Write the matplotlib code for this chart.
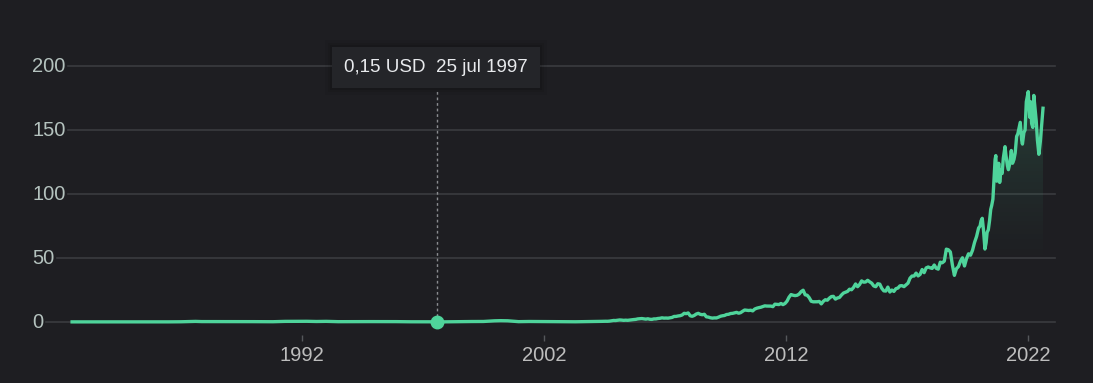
import numpy as np
import matplotlib
matplotlib.use("Agg")
import matplotlib.pyplot as plt
from matplotlib.patches import FancyBboxPatch, Polygon

# Price history (USD, split adjusted)
early_dates = [1982.5, 1983.0, 1983.45, 1984.0, 1984.5, 1985.0, 1985.5, 1986.0, 1986.5,
               1987.0, 1987.6, 1987.85, 1988.5, 1989.0, 1989.7, 1990.0, 1990.8, 1991.3,
               1991.9, 1992.2, 1992.6, 1993.0, 1993.5, 1994.0, 1994.8, 1995.3, 1995.9,
               1996.5, 1997.0, 1997.56, 1997.9, 1998.5, 1999.0, 1999.5, 1999.95, 2000.2,
               2000.5, 2000.95, 2001.4, 2001.9, 2002.3, 2002.8, 2003.3, 2003.8]
early_prices = [0.09, 0.12, 0.17, 0.10, 0.09, 0.10, 0.06, 0.08, 0.11,
                0.18, 0.47, 0.32, 0.33, 0.33, 0.38, 0.28, 0.22, 0.48,
                0.50, 0.55, 0.39, 0.50, 0.25, 0.25, 0.31, 0.34, 0.29,
                0.17, 0.20, 0.15, 0.13, 0.30, 0.37, 0.41, 0.92, 1.05,
                0.95, 0.27, 0.40, 0.35, 0.25, 0.23, 0.18, 0.30]

# monthly closes 2004 - 2019
monthly_start = 2004
monthly_prices = [
    0.40, 0.43, 0.48, 0.46, 0.50, 0.58, 0.58, 0.56, 0.69, 0.93, 1.20, 1.15,
    1.36, 1.60, 1.49, 1.29, 1.42, 1.31, 1.53, 1.67, 1.91, 2.05, 2.42, 2.57,
    2.70, 2.44, 2.24, 2.52, 2.13, 2.04, 2.42, 2.42, 2.75, 2.90, 3.26, 3.03,
    3.10, 3.01, 3.32, 3.57, 4.34, 4.36, 4.71, 4.93, 5.48, 6.78, 6.52, 7.07,
    4.84, 4.46, 5.12, 6.21, 6.77, 5.98, 5.68, 6.04, 4.06, 3.84, 3.31, 3.05,
    3.22, 3.18, 3.75, 4.49, 4.86, 5.09, 5.84, 6.00, 6.62, 6.75, 7.14, 7.53,
    6.86, 7.30, 8.39, 9.37, 9.17, 8.98, 9.19, 8.68, 10.13, 10.77, 11.19, 11.52,
    12.11, 12.61, 12.45, 12.45, 12.42, 12.00, 13.92, 13.74, 13.62, 14.46, 13.59, 14.46,
    16.27, 19.37, 21.43, 20.91, 20.61, 20.86, 21.81, 23.73, 24.83, 21.26, 20.90, 19.01,
    16.23, 15.77, 15.80, 15.81, 16.06, 14.15, 16.16, 17.40, 17.03, 18.65, 19.86, 20.04,
    17.88, 18.78, 19.16, 21.07, 22.61, 23.23, 23.90, 25.62, 25.19, 27.00, 29.73, 27.59,
    29.29, 32.11, 31.11, 31.29, 32.57, 31.36, 30.33, 28.19, 27.57, 29.88, 29.57, 26.31,
    24.34, 24.17, 27.25, 23.43, 24.97, 23.90, 26.05, 26.53, 28.26, 28.39, 27.63, 28.95,
    30.34, 34.25, 35.92, 35.91, 38.19, 36.00, 37.18, 41.00, 38.53, 42.26, 42.96, 42.31,
    41.86, 44.53, 41.94, 41.31, 46.72, 46.28, 47.57, 56.91, 56.44, 54.72, 44.65, 36.44,
    41.61, 43.29, 47.49, 50.17, 43.77, 49.48, 53.26, 52.19, 56.07, 62.19, 66.81, 73.41,
]

# roughly twice a month from 2020 on
late_dates = [
    2020.02, 2020.06, 2020.11, 2020.16, 2020.22, 2020.27, 2020.31, 2020.36, 2020.41, 2020.46, 2020.50,
    2020.55, 2020.59, 2020.64, 2020.67, 2020.71, 2020.76, 2020.79, 2020.83, 2020.88, 2020.93, 2020.98,
    2021.05, 2021.09, 2021.15, 2021.19, 2021.25, 2021.31, 2021.36, 2021.42, 2021.47, 2021.53, 2021.58,
    2021.68, 2021.74, 2021.77, 2021.83, 2021.88, 2021.93, 2021.97,
    2022.01, 2022.07, 2022.11, 2022.15, 2022.20, 2022.24, 2022.30, 2022.34, 2022.39, 2022.45, 2022.51,
    2022.57, 2022.62]
late_prices = [
    75, 79, 81, 72, 57, 62, 70, 72, 79, 88, 91,
    96, 110, 127, 130, 110, 116, 124, 109, 119, 116, 128,
    137, 130, 122, 119, 124, 134, 124, 127, 132, 145, 147,
    156, 142, 139, 148, 150, 172, 176,
    180, 160, 172, 155, 152, 177, 165, 157, 142, 131, 141,
    155, 167]

tooltip_date = 1997.56
tooltip_price = 0.15
tooltip_label = "0,15 USD  25 jul 1997"

ytick_values = [0, 50, 100, 150, 200]
xtick_years = [1992, 2002, 2012, 2022]

BG = "#1e1e22"
GRID = "#3a3b3f"
GREEN = "#4fd49b"

dates = np.array(early_dates
                 + [monthly_start + (i + 0.5) / 12 for i in range(len(monthly_prices))]
                 + late_dates)
prices = np.array(early_prices + monthly_prices + late_prices, dtype=float)

plt.rcParams['font.family'] = ['Liberation Sans', 'DejaVu Sans']

W, H = 1093, 383
fig = plt.figure(figsize=(W / 100, H / 100), dpi=100, facecolor=BG)

# axes placed in pixels so the year scale lines up with the reference
px_per_year = 24.2
px_per_usd = 1.28
x0_px, x1_px = 30, 1062
y_top_px, y_bot_px = 20, 335
ax = fig.add_axes([x0_px / W, (H - y_bot_px) / H, (x1_px - x0_px) / W, (y_bot_px - y_top_px) / H])
ax.set_facecolor(BG)
xlim = (1992 + (x0_px - 302) / px_per_year, 1992 + (x1_px - 302) / px_per_year)
ylim = (-(y_bot_px - 322) / px_per_usd, (322 - y_top_px) / px_per_usd)
for s in ax.spines.values():
    s.set_visible(False)


def px_to_year(px):
    return 1992 + (px - 302) / px_per_year


ax.set_xlim(xlim)
ax.set_ylim(ylim)

# y labels (left aligned) + gridlines starting just after the label
fig.canvas.draw()
renderer = fig.canvas.get_renderer()
grid_end = px_to_year(1055)
for v in ytick_values:
    t = ax.text(px_to_year(32), v, str(v), ha='left', va='center', fontsize=14.5,
                color='#b4c2be')
    bb = t.get_window_extent(renderer)
    start = ax.transData.inverted().transform((bb.x1 + 3, 0))[0]
    ax.plot([start, grid_end], [v, v], color=GRID, lw=1.2, zorder=1)

ax.set_yticks([])
ax.set_xticks(xtick_years)
ax.set_xticklabels([str(y) for y in xtick_years], fontsize=14.5, color='#bdbdbd')
ax.tick_params(axis='x', length=4, width=1, color='#55575b', pad=4)

# gradient fill under the line
grad = np.linspace(0, 1, 256)
rgba = np.zeros((256, 1, 4))
rgba[:, 0, 0:3] = matplotlib.colors.to_rgb(GREEN)
rgba[:, 0, 3] = np.clip((grad - 0.2) / 0.8, 0, 1) ** 1.3 * 0.22
img = ax.imshow(rgba, extent=[dates[0], dates[-1], 0, 200], origin='lower',
                aspect='auto', zorder=2)
poly = Polygon(np.column_stack([np.r_[dates[0], dates, dates[-1]],
                                np.r_[0, prices, 0]]), closed=True,
               facecolor='none', edgecolor='none', transform=ax.transData)
ax.add_patch(poly)
img.set_clip_path(poly)
ax.set_xlim(xlim)
ax.set_ylim(ylim)

ax.plot(dates, prices, color=GREEN, lw=2.4, solid_joinstyle='round', zorder=3)

# hover marker and tooltip
ax.plot([tooltip_date, tooltip_date], [tooltip_price, (322 - 90) / px_per_usd],
        color='#8a8c90', lw=1, ls=(0, (2, 2)), zorder=2)
ax.plot([tooltip_date], [tooltip_price], 'o', ms=9, color=GREEN, zorder=4)

bx0, bx1, by0, by1 = 332, 540, 47, 88
for grow, a in [(7, 0.05), (4, 0.07), (2, 0.1)]:
    fig.patches.append(FancyBboxPatch(((bx0 - grow) / W, (H - by1 - grow) / H),
                                      (bx1 - bx0 + 2 * grow) / W, (by1 - by0 + 2 * grow) / H,
                                      boxstyle='square,pad=0', transform=fig.transFigure,
                                      facecolor='black', edgecolor='none', alpha=a))
fig.patches.append(FancyBboxPatch((bx0 / W, (H - by1) / H), (bx1 - bx0) / W, (by1 - by0) / H,
                                  boxstyle='square,pad=0', transform=fig.transFigure,
                                  facecolor='#242529', edgecolor='none'))
fig.text((bx0 + bx1) / 2 / W, (H - (by0 + by1) / 2) / H, tooltip_label,
         ha='center', va='center', fontsize=13.5, color='#e8eaed')

fig.savefig('out.png', dpi=100, facecolor=BG)
